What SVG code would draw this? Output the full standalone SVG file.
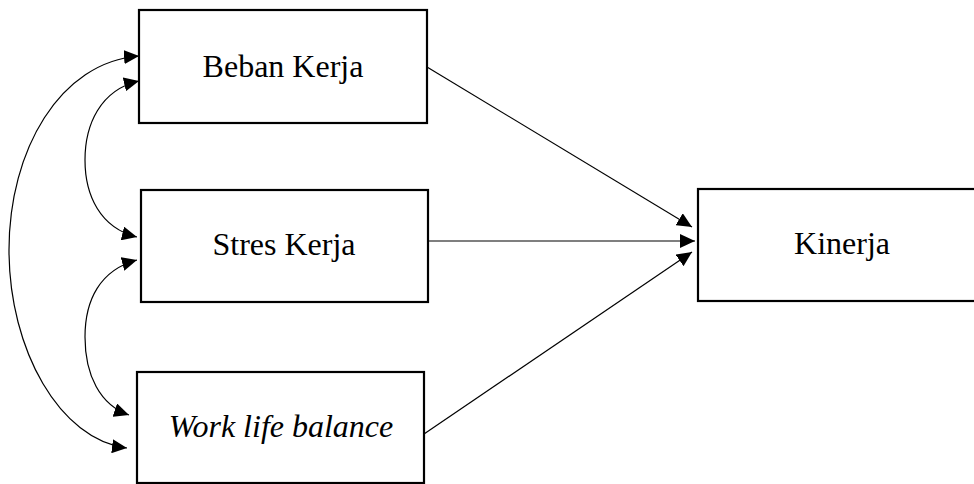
<svg xmlns="http://www.w3.org/2000/svg" width="974" height="484" viewBox="0 0 974 484">
<style>
.box{fill:#fff;stroke:#000;stroke-width:2.2}
.lbl{font-family:"Liberation Serif","Times New Roman",serif;font-size:32px;fill:#000;text-anchor:middle}
.it{font-style:italic}
.con{fill:none;stroke:#000;stroke-width:1.2}
</style>
<defs>
<marker id="ah" viewBox="0 0 15 14" refX="15" refY="7" markerWidth="15" markerHeight="14" markerUnits="userSpaceOnUse" orient="auto-start-reverse">
<path d="M0,0 L15,7 L0,14 z" fill="#000"/>
</marker>
</defs>
<rect width="974" height="484" fill="#fff"/>
<g id="connectors">
<path class="con" d="M427,67 L692,227" marker-end="url(#ah)"/>
<path class="con" d="M428,241 L695,241" marker-end="url(#ah)"/>
<path class="con" d="M424,434 L692,252" marker-end="url(#ah)"/>
<path class="con" d="M139,56 C60,62 9,150 9,250 C9,350 60,440 127,448" marker-start="url(#ah)" marker-end="url(#ah)"/>
<path class="con" d="M139,81 C100,90 85,125 85,160 C85,195 100,228 137,237" marker-start="url(#ah)" marker-end="url(#ah)"/>
<path class="con" d="M137,260 C100,270 85,300 85,337 C85,375 100,405 129,415" marker-start="url(#ah)" marker-end="url(#ah)"/>
</g>
<g id="beban-kerja">
<rect class="box" x="139" y="10" width="288" height="113"/>
<text class="lbl" x="283" y="77">Beban Kerja</text>
</g>
<g id="stres-kerja">
<rect class="box" x="141" y="190" width="287" height="112"/>
<text class="lbl" x="284" y="255">Stres Kerja</text>
</g>
<g id="work-life-balance">
<rect class="box" x="137" y="372" width="287" height="111"/>
<text class="lbl it" x="281" y="437">Work life balance</text>
</g>
<g id="kinerja">
<rect class="box" x="698" y="189" width="290" height="112"/>
<text class="lbl" x="842" y="254">Kinerja</text>
</g>
</svg>
